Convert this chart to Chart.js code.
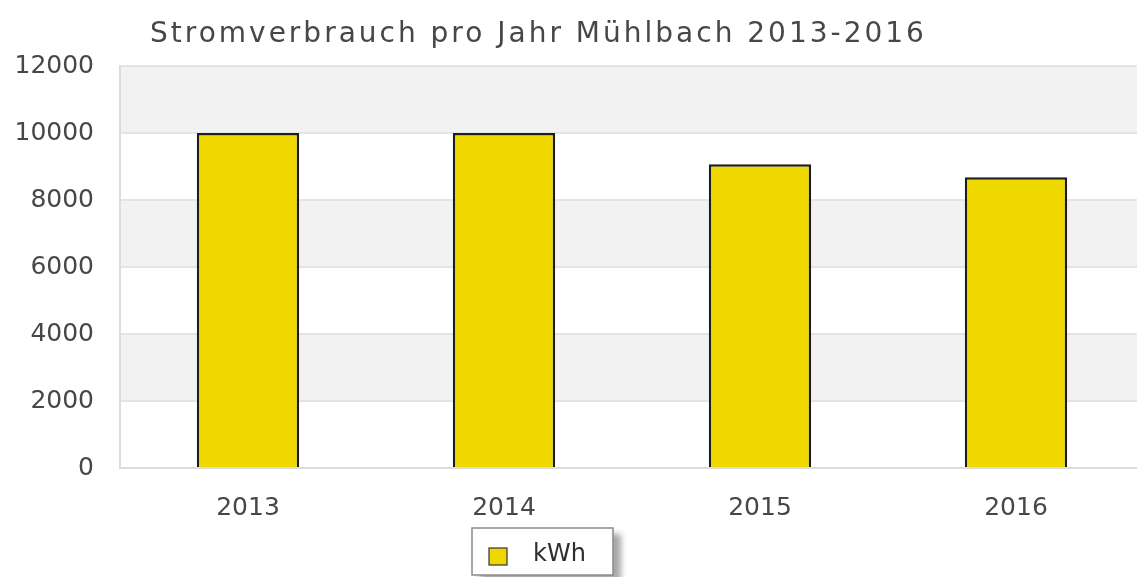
<!DOCTYPE html>
<html>
<head>
<meta charset="utf-8">
<script src="https://cdn.jsdelivr.net/npm/chart.js@4.4.0/dist/chart.umd.min.js"></script>
<style>
  html, body { margin: 0; padding: 0; background: #fff; overflow: hidden; }
  #wrap { width: 1150px; height: 577px; }
</style>
</head>
<body>
<div id="wrap"><canvas id="strom"></canvas></div>
<script>
// data
const jahre = ["2013", "2014", "2015", "2016"];
const verbrauch = [10000, 10000, 9070, 8680];
const serienName = "kWh";
const titelText = "Stromverbrauch pro Jahr Mühlbach 2013-2016";
const yTicks = [0, 2000, 4000, 6000, 8000, 10000, 12000];

const FONT = "'DejaVu Sans', Verdana, sans-serif";
const gelb = "#efd700";
const textFarbe = "#474747";

// grey bands every second interval
const bandPlugin = {
  id: "bands",
  beforeDraw(chart) {
    const { ctx, chartArea, scales } = chart;
    const y = scales.y;
    ctx.save();
    ctx.fillStyle = "#f2f2f2";
    for (let i = 1; i < yTicks.length - 1; i += 2) {
      const top = y.getPixelForValue(yTicks[i + 1]);
      const bot = y.getPixelForValue(yTicks[i]);
      ctx.fillRect(chartArea.left, top, chartArea.right - chartArea.left, bot - top);
    }
    ctx.restore();
  }
};

// title + boxed legend like the original
const deko = {
  id: "deko",
  afterDraw(chart) {
    const ctx = chart.ctx;
    ctx.save();
    ctx.font = "28px " + FONT;
    ctx.letterSpacing = "3px";
    ctx.fillStyle = textFarbe;
    ctx.textBaseline = "middle";
    ctx.textAlign = "left";
    ctx.fillText(titelText, 150, 35);
    ctx.letterSpacing = "0px";

    // legend box with shadow
    const bx = 472, by = 528, bw = 141, bh = 47;
    ctx.shadowColor = "rgba(0,0,0,0.35)";
    ctx.shadowBlur = 6;
    ctx.shadowOffsetX = 8;
    ctx.shadowOffsetY = 6;
    ctx.fillStyle = "#fff";
    ctx.fillRect(bx, by, bw, bh);
    ctx.shadowColor = "transparent";
    ctx.strokeStyle = "#8a8a8a";
    ctx.lineWidth = 1.5;
    ctx.strokeRect(bx, by, bw, bh);

    ctx.fillStyle = gelb;
    ctx.fillRect(489, 548, 18, 17);
    ctx.strokeStyle = "#333";
    ctx.lineWidth = 1.2;
    ctx.strokeRect(489, 548, 18, 17);

    ctx.fillStyle = "#2e2e2e";
    ctx.font = "24px " + FONT;
    ctx.fillText(serienName, 533, 555);
    ctx.restore();
  }
};

new Chart(document.getElementById("strom"), {
  type: "bar",
  data: {
    labels: jahre,
    datasets: [{
      label: serienName,
      data: verbrauch,
      backgroundColor: gelb,
      borderColor: "#1e1e1e",
      borderWidth: 2.5,
      barPercentage: 0.4,
      categoryPercentage: 1
    }]
  },
  options: {
    responsive: true,
    maintainAspectRatio: false,
    animation: false,
    layout: { padding: { top: 66, right: 6, left: 0, bottom: 0 } },
    plugins: {
      legend: { display: false },
      title: { display: false },
      tooltip: { enabled: false }
    },
    scales: {
      x: {
        grid: { display: false, drawTicks: false },
        border: { display: true, color: "#dcdcdc", width: 2 },
        ticks: { color: textFarbe, font: { family: FONT, size: 25 }, padding: 25 },
        afterFit(s) { s.height = 109; }
      },
      y: {
        min: 0,
        max: 12000,
        grid: { color: "#e4e4e4", lineWidth: 2, drawTicks: false },
        border: { display: true, color: "#dcdcdc", width: 2 },
        ticks: {
          stepSize: 2000,
          color: textFarbe,
          font: { family: FONT, size: 25 },
          padding: 26,
          callback: (v) => String(v)
        },
        afterFit(s) { s.width = 120; }
      }
    }
  },
  plugins: [bandPlugin, deko]
});
</script>
</body>
</html>
